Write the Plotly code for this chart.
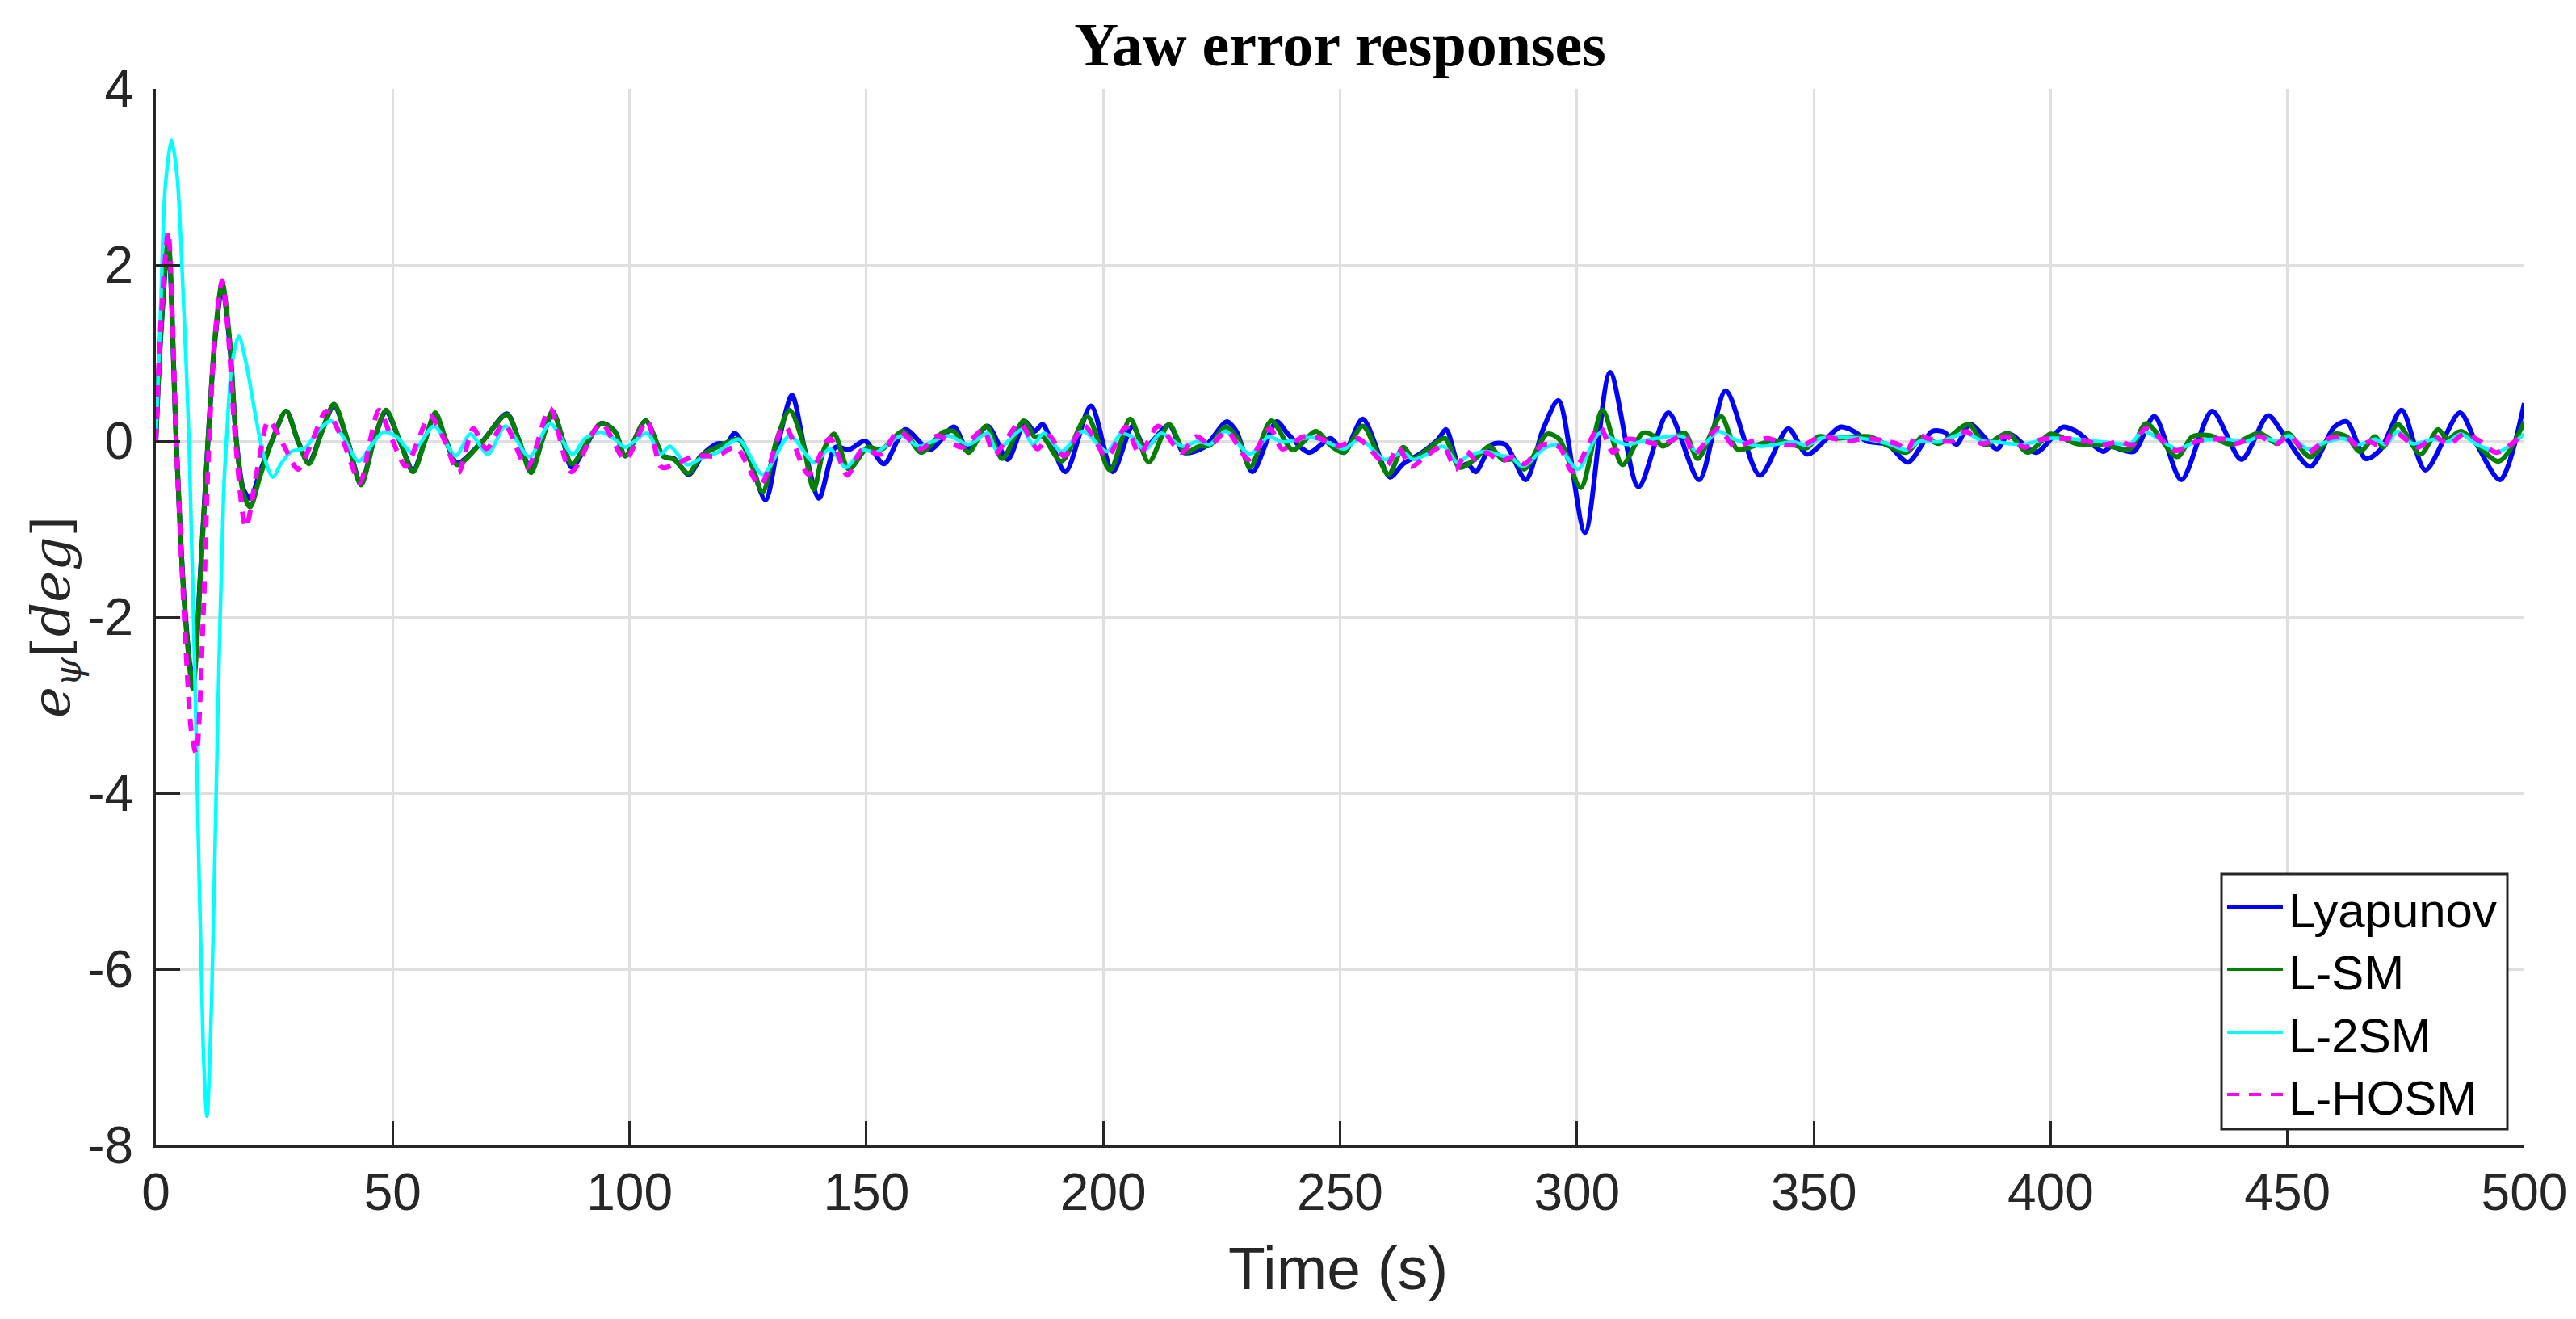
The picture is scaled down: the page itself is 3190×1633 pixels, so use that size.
"""
Yaw error responses - recreated with Plotly
"""
import plotly.graph_objects as go

# ---- data ----
t_lyap = [0, 1, 2.6, 4.3, 6, 7.8, 9.5, 11, 12.5, 14, 15.5, 17, 18.5, 19.9, 22, 24.5, 27.5, 30, 32.3, 35,
          37.6, 40.5, 43.3, 46, 48.6, 51.5, 54.3, 56.8, 59, 61.3, 63.6, 69, 74.1, 76.7, 79.2, 81.5, 83.75, 86, 87.8,
          94, 96.9, 99.1, 103.4, 107.1, 109.4, 112.5, 115.5, 118.5, 120.5, 122.2, 125, 128.7, 131.5, 134.3, 137,
          140, 143.5, 146.3, 149.7, 153.7, 158.2, 163.4, 168.5, 171.3, 175.6,
          179.8, 183.5, 185.5, 187.2, 192, 197.4, 202, 206.2, 208.8, 213.9, 217, 221.3, 226.1, 228.1, 231.5,
          236.6, 239, 243.5, 248, 250.8, 254.8, 260.5, 263.3,
          267.3, 270.7, 272.4, 275.2, 276.9, 278.6, 282.1, 284.9, 289.2, 292.9, 296.1, 301.7, 307, 313, 319.3,
          325.8, 331.4, 338.6, 344.6, 348.6,
          355.7, 358.8, 361.1, 365.6, 369.9, 375, 377.6, 380.1, 383, 388.7, 391.2, 396.9, 402.6, 405.4, 411.1,
          412.8, 414.5, 417.6, 421.9, 427.6, 434.1,
          440.3, 445.9, 448.9, 454.8, 459.9, 462.5, 466.5, 469.6, 474.1, 479.1, 486.4, 490, 494.9, 500]
e_lyap = [0, 1.15, 2.25, 0, -1.8, -2.75, -1.4, 0, 1.15, 1.75, 1.15, 0, -0.55, -0.65, -0.35, 0, 0.34, 0, -0.24, 0.1,
          0.4, 0, -0.48, 0, 0.33, 0, -0.33, 0, 0.3, 0, -0.25, 0, 0.31, 0, -0.33, 0, 0.33, 0, -0.3,
          0.2, 0.11, -0.17, 0.23, -0.17, -0.2, -0.38, -0.15, -0.03, -0.03, 0.09, -0.15, -0.67, 0, 0.52, -0.1,
          -0.65, -0.07, -0.1, 0.0, -0.26, 0.13, -0.1, 0.16, -0.09, 0.17,
          -0.21, 0.22, 0.11, 0.19, -0.35, 0.4, -0.35, 0.17, -0.07, 0.18, -0.13, -0.07, 0.22, 0.11, -0.35,
          0.22, 0.08, -0.13, 0.03, -0.13, 0.25, -0.41, -0.26,
          -0.13, 0.02, 0.13, -0.29, -0.26, -0.35, -0.04, -0.04, -0.44, 0.14, 0.46, -1.04, 0.78, -0.52, 0.32,
          -0.44, 0.57, -0.39, 0.14, -0.15,
          0.16, 0.1, 0.0, -0.04, -0.24, 0.11, 0.1, -0.04, 0.19, -0.09, 0.08, -0.13, 0.16, 0.11, -0.12,
          -0.06, -0.09, -0.12, 0.28, -0.44, 0.34,
          -0.21, 0.29, 0.1, -0.29, 0.16, 0.22, -0.2, -0.1, 0.35, -0.33, 0.32, -0.04, -0.44, 0.43]

t_lsm = [0, 1, 2.6, 4.3, 6, 7.8, 9.5, 11, 12.5, 14, 15.5, 17, 18.5, 19.9, 22, 24.5, 27.5, 30, 32.3, 35,
         37.6, 40.5, 43.3, 46, 48.6, 51.5, 54.3, 56.8, 59, 61.3, 63.6, 69, 74.1, 76.7, 79.2, 81.5, 83.75, 86, 87.8,
         94, 96.9, 99.1, 103.4, 107.1, 109.4, 112.5, 115, 118.5, 123, 125.3, 128.1, 131, 133.8, 136.5, 138.9,
         141, 143.2, 146.3, 150.3, 153.1, 157.7, 161.6, 166.2, 168.5, 171.6, 175.3,
         178.7, 183.2, 185.5, 187.2, 191.2, 196.6, 201.4, 205.7, 209.6, 213.9, 217.3, 220.2, 222.5, 225.8,
         228.5, 231, 235.5, 240, 244.9, 248, 250.8, 254.8, 260.2, 263.3,
         265.5, 268.4, 272.1, 275.2, 278.6, 281.5, 284.3, 286.6, 288.9, 293.7, 296.3, 300.8, 305.4, 309.6,
         313.9, 316.1, 318.1, 322.7, 325.5, 330.4, 333.8, 338.3, 341.1, 344, 348.5,
         350.9, 354.3, 361.7, 365.6, 369.6, 373, 376.4, 382.7, 386.1, 390.9, 395.2, 400, 405.4, 411.1,
         416.8, 420.2, 426.7, 429.9, 433.8, 437.2,
         439, 444, 448, 450, 454.8, 459.9, 462.5, 465.3, 468.5, 470.2, 473.3, 478.1, 481.8, 483.8, 486.6,
         494.6, 500]
e_lsm = [0, 1.2, 2.29, 0, -1.85, -2.81, -1.45, 0, 1.2, 1.8, 1.2, 0, -0.6, -0.75, -0.4, 0, 0.34, 0, -0.26, 0.1,
         0.42, 0, -0.5, 0, 0.35, 0, -0.35, 0, 0.32, 0, -0.27, 0, 0.3, 0, -0.36, 0, 0.34, 0, -0.26,
         0.2, 0.11, -0.17, 0.23, -0.17, -0.21, -0.37, -0.17, -0.07, 0.02, -0.2, -0.58, 0, 0.35, 0, -0.55,
         -0.1, 0.08, -0.32, -0.07, -0.1, 0.11, -0.13, 0.1, 0.11, -0.13, 0.17,
         -0.2, 0.23, 0.05, 0.05, -0.23, 0.28, -0.33, 0.25, -0.24, 0.19, -0.13, -0.06, -0.05, 0.16,
         0.02, -0.3, 0.23, -0.1, 0.11, -0.05, -0.13, 0.17, -0.38, -0.07,
         -0.2, -0.1, 0.03, -0.3, -0.2, -0.06, -0.21, -0.21, -0.32, 0.08, 0.02, -0.53, 0.35, -0.27,
         0.09, 0.06, -0.06, 0.09, -0.2, 0.28, -0.09, -0.04, 0.0, -0.01, -0.08,
         0.05, 0.03, 0.05, -0.05, -0.13, 0.05, -0.03, 0.19, -0.04, 0.09, -0.13, 0.08, -0.03, -0.04,
         -0.09, 0.2, -0.18, 0.05, 0.06, -0.03,
         -0.03, 0.09, -0.03, 0.09, -0.18, 0.08, 0.05, -0.12, 0.05, -0.07, 0.19, -0.15, 0.13, 0.02, 0.11,
         -0.23, 0.22]

t_l2sm = [0, 1, 2, 3.3, 4.5, 5.5, 7, 8.5, 10, 10.8, 11.8, 13, 14.3, 15, 16, 17.5, 19, 21, 22.7, 24.7,
          26.5, 28.6, 31.5, 34, 36.9, 39.5, 42.8, 45.5, 48, 50.8, 54.1, 58.75, 63.3, 66.4, 70.1, 73.8, 78.9, 83.2, 88,
          90.6, 94, 96.9, 99.1, 103.7, 106.5, 108.5, 112.2, 115, 118.5, 123, 128.1, 133.8, 138.9, 142.3, 145.7,
          149.1, 152, 157.4, 161, 167.3, 171.6, 175.6,
          177.5, 182.9, 185.2, 187.5, 191.2, 195.7, 200.8, 203.7, 206, 208.8, 212.2, 216.7, 220.2, 222.5,
          225.8, 231, 234.9, 237.8, 244, 248, 250.8, 254.2, 259.4, 263.3,
          265.5, 268.4, 271.8, 274.7, 277, 280.9, 284.3, 286, 288.6, 292.9, 295.7, 300.2, 304.8, 308.2,
          310.5, 315.6, 322.4, 325.2, 329.8, 333.2, 338.9, 345.7, 348.6,
          351.4, 360, 365.6, 369.6, 372.5, 376.4, 382.1, 385.5, 388.4, 394, 399.7, 405.4, 411.1, 416.8,
          419.6, 426.7, 431, 437.2,
          441.2, 444, 448, 450.3, 454.3, 458.2, 461.6, 465, 468.5, 470.7, 473.3, 476.4, 481, 483.8, 486.6,
          490, 494.6, 500]
e_l2sm = [0, 1.5, 2.9, 3.42, 3.0, 2.0, 0, -3.3, -6.9, -7.67, -6.3, -3.3, -0.6, 0.1, 0.85, 1.19, 0.9, 0.3, -0.15, -0.41,
          -0.25, -0.12, -0.08, 0.1, 0.23, 0.05, -0.23, -0.05, 0.1, 0.05, -0.13, 0.17, -0.17, 0.08, -0.15, 0.17,
          -0.18, 0.2, -0.15,
          0.03, 0.1, 0.02, -0.07, 0.09, -0.15, -0.06, -0.27, -0.2, -0.13, 0.02, -0.38, 0.06, -0.24, -0.09, -0.3,
          -0.1, -0.13, 0.06, -0.06, 0.06, -0.04, 0.09,
          -0.1, 0.13, -0.04, 0.09, -0.12, 0.11, -0.12, 0.08, 0.05, -0.1, 0.09, -0.06, 0.0, -0.04,
          0.11, -0.15, 0.05, -0.01, 0.04, -0.03, -0.09, 0.02, -0.21, -0.13,
          -0.21, -0.15, -0.06, -0.24, -0.17, -0.12, -0.17, -0.18, -0.29, -0.09, -0.04, -0.32, 0.09, 0.0,
          -0.04, 0.02, 0.05, -0.12, 0.11, 0.02, -0.06, -0.01, -0.05,
          0.03, 0.03, -0.03, -0.1, 0.0, -0.01, 0.09, 0.0, -0.01, -0.04, 0.03, 0.02, -0.01, -0.03,
          0.11, -0.09, 0.0, 0.02,
          -0.01, 0.05, 0.0, 0.06, -0.09, -0.01, 0.03, -0.04, 0.02, -0.04, 0.11, -0.03, 0.02, -0.01, 0.08,
          -0.04, -0.12, 0.08]

t_lhosm = [0, 1, 2.6, 3.5, 4.3, 6, 7.5, 8.5, 10, 11, 12.5, 14, 15.3, 16.8, 19, 21.5, 23.8, 27, 30, 33,
           36, 39.5, 43.1, 45.2, 47.1, 50, 52.8, 55.3, 57.9, 61, 63.9, 67, 69.8, 73.5, 78.4, 83.2, 87.7,
           94, 99.1, 103.7, 106.8, 110.5, 114, 118.5, 122.4, 127.6, 132.7, 137.8, 142.3, 146, 149.1, 153.1,
           156.8, 161.6, 165, 170.2, 174.7,
           177, 182.4, 186.1, 188.6, 191.7, 196, 200.8, 204.8, 207.7, 211.6, 216.5, 219.6, 222.7, 226.1,
           230.7, 235.2, 237.8, 242.3, 245.7, 249.7, 253.7, 259.9, 262.2,
           265, 267.9, 271.8, 274.4, 276.7, 278.6, 280.9, 283.8, 286.6, 288.9, 292.9, 296.3, 299.1, 304.8,
           307.6, 310.5, 313.9, 317.9, 322.7, 324.7, 329.8, 333.2, 336.6, 340.3, 344, 348,
           351.4, 357.1, 361.1, 367.9, 369.6, 371.6, 374.7, 379.3, 382.1, 385.5, 390.6, 394.6, 398, 405.4,
           411.1, 414.5, 417.4, 420.2, 426.4, 431, 437.2,
           438.9, 444, 447.7, 450.3, 454.3, 458.2, 462.2, 465, 467.3, 470.2, 472.4, 477.5, 481, 484.1, 487.2,
           490.6, 494.1, 500]
e_lhosm = [0, 1.3, 2.38, 1.4, 0, -2.0, -3.3, -3.55, -2.0, -0.3, 1.2, 1.82, 1.2, 0, -0.98, -0.3, 0.23, -0.05, -0.32, 0,
           0.34, 0, -0.47, 0, 0.35, 0, -0.29, 0, 0.29, 0, -0.36, 0.14, -0.09, 0.2, -0.3, 0.37, -0.35,
           0.2, -0.21, 0.23, -0.3, -0.24, -0.17, -0.17, -0.07, -0.5, 0.17, -0.38, 0.03, -0.39, -0.1, -0.15,
           0.11, -0.09, 0.06, -0.07, 0.13,
           -0.15, 0.2, -0.09, 0.06, -0.17, 0.17, -0.18, 0.16, -0.15, 0.17, -0.13, 0.05, -0.04, 0.11,
           -0.21, 0.14, -0.09, 0.05, 0.03, -0.06, 0.03, -0.27, -0.07,
           -0.29, -0.18, -0.06, -0.32, -0.12, -0.21, -0.13, -0.23, -0.18, -0.26, -0.04, -0.07, -0.35, 0.16,
           -0.13, 0.02, 0.0, -0.04, 0.06, -0.15, 0.14, -0.06, -0.01, 0.03, -0.04, -0.04,
           0.05, 0.0, 0.03, -0.04, -0.12, 0.06, 0.02, 0.0, 0.11, -0.03, 0.05, -0.07, 0.02, 0.02,
           -0.04, -0.01, -0.04, 0.15, -0.11, 0.0, 0.02,
           -0.03, 0.05, -0.03, 0.06, -0.13, 0.02, 0.05, -0.06, -0.01, -0.07, 0.11, -0.07, 0.05, -0.04, 0.08,
           0.0, -0.13, 0.09]

x_ticks = [0, 50, 100, 150, 200, 250, 300, 350, 400, 450, 500]
y_ticks = [-8, -6, -4, -2, 0, 2, 4]
y_tick_labels = ["-8", "-6", "-4", "-2", "0", "2", "4"]

series_names = ["Lyapunov", "L-SM", "L-2SM", "L-HOSM"]

AXIS = "#262626"
GRID = "#dfdfdf"
SANS = "Liberation Sans, Arial, sans-serif"
SERIF = "Liberation Serif, Times New Roman, serif"

# 시리즈별 스타일 (MATLAB 기본 색상)
styles = [
    dict(color="#0000ff", width=6),
    dict(color="#007f00", width=6),
    dict(color="#00ffff", width=4.5),
    dict(color="#ff00ff", width=6, dash="15px,12px"),
]
series = [(t_lyap, e_lyap), (t_lsm, e_lsm), (t_l2sm, e_l2sm), (t_lhosm, e_lhosm)]

fig = go.Figure()
for (tt, ee), name, st in zip(series, series_names, styles):
    fig.add_trace(go.Scatter(x=tt, y=ee, mode="lines", name=name,
                             line=dict(shape="spline", smoothing=0.8, **st)))

fig.update_layout(
    width=3190,
    height=1633,
    margin=dict(l=185, r=72, t=102, b=223),
    paper_bgcolor="white",
    plot_bgcolor="white",
    title=dict(text="<b>Yaw error responses</b>", xref="paper", x=0.5, xanchor="center",
               y=1 - 46 / 1633, yanchor="middle",
               font=dict(family=SERIF, size=76, color="black")),
    showlegend=False,
)

fig.update_xaxes(
    range=[0, 500], tickvals=x_ticks,
    showgrid=True, gridcolor=GRID, gridwidth=3, zeroline=False,
    showline=True, linecolor=AXIS, linewidth=3,
    ticks="inside", ticklen=30, tickwidth=3, tickcolor=AXIS,
    ticklabelstandoff=0,
    tickfont=dict(family=SANS, size=64, color=AXIS),
)
fig.update_yaxes(
    range=[-8, 4], tickvals=y_ticks, ticktext=y_tick_labels,
    showgrid=True, gridcolor=GRID, gridwidth=3, zeroline=False,
    showline=True, linecolor=AXIS, linewidth=3,
    ticks="inside", ticklen=30, tickwidth=3, tickcolor=AXIS,
    ticklabelstandoff=12,
    tickfont=dict(family=SANS, size=64, color=AXIS),
)

# 축 제목
fig.add_annotation(text="Time (s)", xref="paper", yref="paper",
                   x=0.499, y=(1410 - 1562) / 1308, xanchor="center", yanchor="middle",
                   showarrow=False, font=dict(family=SANS, size=75, color=AXIS))
fig.add_annotation(text="<i>e</i><sub><i>ψ</i></sub>[<i>deg</i>]", xref="paper", yref="paper",
                   x=(60 - 185) / 2933, y=0.5, xanchor="center", yanchor="middle",
                   textangle=-90, showarrow=False,
                   font=dict(family="DejaVu Serif, serif", size=66, color=AXIS))


# 범례 (MATLAB 스타일: 긴 선 샘플)
def px_x(px):
    return (px - 185) / 2933


def px_y(px):
    return (1410 - px) / 1308


fig.add_shape(type="rect", xref="paper", yref="paper",
              x0=px_x(2743), x1=px_x(3097), y0=px_y(1390), y1=px_y(1074),
              line=dict(color=AXIS, width=3), fillcolor="white", layer="above")
row_y = [1115, 1192, 1270, 1347]
for name, st, ry in zip(series_names, styles, row_y):
    fig.add_shape(type="line", xref="paper", yref="paper",
                  x0=px_x(2750), x1=px_x(2819), y0=px_y(ry), y1=px_y(ry),
                  line=dict(color=st["color"], width=4, dash=st.get("dash", "solid")),
                  layer="above")
    fig.add_annotation(text=name, xref="paper", yref="paper",
                       x=px_x(2824), y=px_y(ry + 4), xanchor="left", yanchor="middle",
                       showarrow=False, font=dict(family=SANS, size=60, color="black"))

fig.write_html("out.html")
